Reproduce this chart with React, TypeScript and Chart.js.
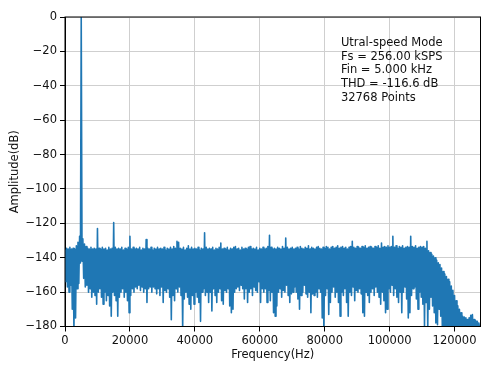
import React, { useEffect, useRef } from "react";
import { Chart, registerables } from "chart.js";

Chart.register(...registerables);

// FFT bins are sampled every 500 Hz; each bin has an upper and a lower reading of the noise band.
const FREQ_STEP = 500;
const FREQ_MAX = 128000;

const xTicks = [0, 20000, 40000, 60000, 80000, 100000, 120000];
const yTicks = [0, -20, -40, -60, -80, -100, -120, -140, -160, -180];

// Upper envelope of the spectrum (dB), one value per 500 Hz bin, 0 .. 128000 Hz
const noiseTop = [
  -135.5, -134.5, -135, -134, -135, -134.5, -135, -133, -131, -127.5, 0, -129, -132, -133.5, -134.5, -135, -134, -135, -134.5, -135,
  -123, -134.5, -135, -134, -135, -134.5, -135.5, -134, -135, -134.5, -119.5, -134, -135, -134.5, -135, -134, -135.5, -134.5, -135, -134,
  -127.5, -135, -134, -135, -134.5, -135, -134, -135.5, -134.5, -135, -129.5, -134.5, -135, -134, -135.5, -134.5, -135, -134, -135, -134.5,
  -135, -134, -135.5, -134.5, -135, -134, -135, -133.5, -134.5, -130.5, -131, -134.5, -135, -134, -135.5, -134.5, -133, -135, -134, -135,
  -134.5, -135, -134, -135.5, -134.5, -135, -125.5, -134, -135, -134.5, -135, -134, -135.5, -134.5, -135, -134, -131.5, -135, -134.5, -135,
  -134, -135.5, -134.5, -135, -134, -133.5, -135, -134.5, -135.5, -134, -135, -134.5, -135, -134, -133.5, -135, -134.5, -135, -134, -135.5,
  -134.5, -135, -134, -135, -134.5, -133.5, -127, -134, -135, -134.5, -135, -134, -134.5, -135, -133.5, -134.5, -128.5, -134, -135, -134.5,
  -134, -135, -134.5, -134, -135, -133.5, -134.5, -135, -134, -134.5, -133, -135, -134, -134.5, -135, -134, -133.5, -134.5, -135, -134,
  -134.5, -133.5, -134, -135, -134, -133.5, -134.5, -134, -133, -134.5, -134, -133.5, -134.5, -134, -135, -134, -133.5, -130.5, -134, -134.5,
  -133.5, -134, -134.5, -133.5, -134, -133, -134.5, -134, -133.5, -134, -134.5, -133.5, -134, -133, -134.5, -131.5, -134, -133.5, -134, -133,
  -134, -133.5, -127.5, -134, -133, -134.5, -133.5, -134, -133, -134.5, -134, -133.5, -134, -127.5, -133.5, -134, -133, -134.5, -134, -133.5,
  -134, -133.5, -134.5, -130.5, -136, -137, -138, -139, -140, -141.5, -143, -144, -146, -148, -149.5, -151, -152.5, -154, -156.5, -159,
  -162, -165, -168, -170, -172, -174, -174.5, -175, -176, -175, -173.5, -173, -176, -176.5, -177, -178, -179,
];

// Lower envelope of the spectrum (dB), read 250 Hz after each upper reading
const noiseBottom = [
  -154, -157, -160, -156, -170, -182, -175, -158, -155, -143, -142, -152, -157, -156, -160, -158, -163, -160, -162, -167,
  -160, -158, -163, -167, -160, -165, -162, -168, -174, -160, -162, -165, -174, -163, -160, -158, -163, -160, -165, -172,
  -162, -158, -160, -157, -158, -156, -159, -157, -160, -158, -166, -158, -157, -160, -157, -158, -161, -158, -162, -157,
  -166, -159, -160, -158, -163, -176, -162, -165, -158, -160, -157, -162, -182, -164, -160, -163, -167, -170, -162, -167,
  -160, -163, -166, -177, -160, -158, -162, -160, -166, -160, -171, -158, -162, -166, -160, -158, -165, -167, -159, -160,
  -158, -168, -172, -170, -160, -158, -157, -159, -156, -158, -164, -158, -166, -160, -158, -162, -157, -159, -160, -154,
  -166, -158, -160, -158, -166, -159, -165, -160, -172, -174, -168, -160, -158, -163, -159, -160, -156, -162, -166, -161,
  -160, -157, -160, -164, -170, -162, -160, -156, -161, -163, -160, -172, -161, -162, -160, -163, -158, -160, -175, -182,
  -162, -158, -173, -166, -160, -157, -163, -160, -166, -174, -160, -162, -158, -166, -174, -160, -162, -157, -165, -159,
  -160, -158, -161, -172, -174, -160, -162, -166, -160, -158, -162, -157, -160, -163, -167, -160, -165, -172, -170, -158,
  -160, -156, -162, -158, -163, -166, -160, -172, -160, -157, -164, -175, -172, -162, -158, -157, -164, -170, -160, -163,
  -167, -180, -166, -182, -170, -163, -168, -172, -178, -179, -170, -174, -182, -182, -182, -182, -182, -182, -182, -182,
  -182, -182, -182, -182, -182, -182, -182, -182, -182, -182, -182, -182, -182, -182, -182, -182, -182,
];

const infoLines = [
  "Utral-speed Mode",
  "Fs = 256.00 kSPS",
  "Fin = 5.000 kHz",
  "THD = -116.6 dB",
  "32768 Points",
];
const infoAnchor = { x: 85000, y: -15.1 };

const FONT = "'DejaVu Sans', sans-serif";

function buildPoints() {
  const pts: { x: number; y: number }[] = [];
  noiseTop.forEach((t, i) => {
    const f = i * FREQ_STEP;
    pts.push({ x: f, y: t });
    const fb = f + FREQ_STEP / 2;
    if (fb <= FREQ_MAX) pts.push({ x: fb, y: noiseBottom[i] });
  });
  return pts;
}

const minus = (v: number) => (v < 0 ? "\u2212" + Math.abs(v) : String(v));

const framePlugin = {
  id: "frameAndInfo",
  afterDatasetsDraw(chart: any) {
    const { ctx, chartArea: a, scales } = chart;
    ctx.save();
    ctx.strokeStyle = "#000";
    ctx.lineWidth = 1;
    ctx.strokeRect(a.left, a.top, a.right - a.left, a.bottom - a.top);
    ctx.fillStyle = "#111";
    ctx.font = `11.5px ${FONT}`;
    ctx.textAlign = "left";
    ctx.textBaseline = "middle";
    const x0 = scales.x.getPixelForValue(infoAnchor.x);
    const y0 = scales.y.getPixelForValue(infoAnchor.y);
    infoLines.forEach((line, k) => ctx.fillText(line, x0, y0 + k * 13.75));
    ctx.restore();
  },
};

export default function App() {
  const ref = useRef<HTMLCanvasElement>(null);
  useEffect(() => {
    const chart = new Chart(ref.current!, {
      type: "line",
      data: {
        datasets: [
          {
            data: buildPoints(),
            borderColor: "#1f77b4",
            borderWidth: 1.6,
            borderJoinStyle: "round",
            pointRadius: 0,
            tension: 0,
            clip: 0,
          } as any,
        ],
      },
      options: {
        responsive: false,
        animation: false,
        events: [],
        layout: { padding: { top: 17, right: 17.5, left: 0, bottom: 0 } },
        plugins: { legend: { display: false }, tooltip: { enabled: false } },
        scales: {
          x: {
            type: "linear",
            min: 0,
            max: FREQ_MAX,
            afterBuildTicks: (s: any) => {
              s.ticks = xTicks.map((v) => ({ value: v }));
            },
            afterFit: (s: any) => {
              s.height = 59.5;
            },
            grid: {
              color: "#cfcfcf",
              lineWidth: 1,
              drawTicks: true,
              tickLength: 5,
              tickColor: "#000",
              tickWidth: 1,
            },
            border: { display: true, color: "#000", width: 1 },
            ticks: {
              color: "#111",
              font: { family: FONT, size: 11.5 },
              padding: 3,
              maxRotation: 0,
              autoSkip: false,
              callback: (v: any) => String(v),
            },
            title: {
              display: true,
              text: "Frequency(Hz)",
              color: "#111",
              font: { family: FONT, size: 11.5 },
              padding: { top: 4, bottom: 24 },
            },
          },
          y: {
            type: "linear",
            min: -180,
            max: 0,
            afterBuildTicks: (s: any) => {
              s.ticks = yTicks.map((v) => ({ value: v }));
            },
            afterFit: (s: any) => {
              s.width = 65;
            },
            grid: {
              color: "#cfcfcf",
              lineWidth: 1,
              drawTicks: true,
              tickLength: 5,
              tickColor: "#000",
              tickWidth: 1,
            },
            border: { display: true, color: "#000", width: 1 },
            ticks: {
              color: "#111",
              font: { family: FONT, size: 11.5 },
              padding: 3,
              autoSkip: false,
              callback: (v: any) => minus(Number(v)),
            },
            title: {
              display: true,
              text: "Amplitude(dB)",
              color: "#111",
              font: { family: FONT, size: 11.5 },
              padding: { top: 8, bottom: 0 },
            },
          },
        },
      },
      plugins: [framePlugin],
    });
    return () => chart.destroy();
  }, []);

  return (
    <div
      style={{
        position: "fixed",
        left: 0,
        top: 0,
        width: 498,
        height: 386,
        background: "#fff",
      }}
    >
      <canvas ref={ref} width={498} height={386} style={{ width: 498, height: 386, display: "block" }} />
    </div>
  );
}
